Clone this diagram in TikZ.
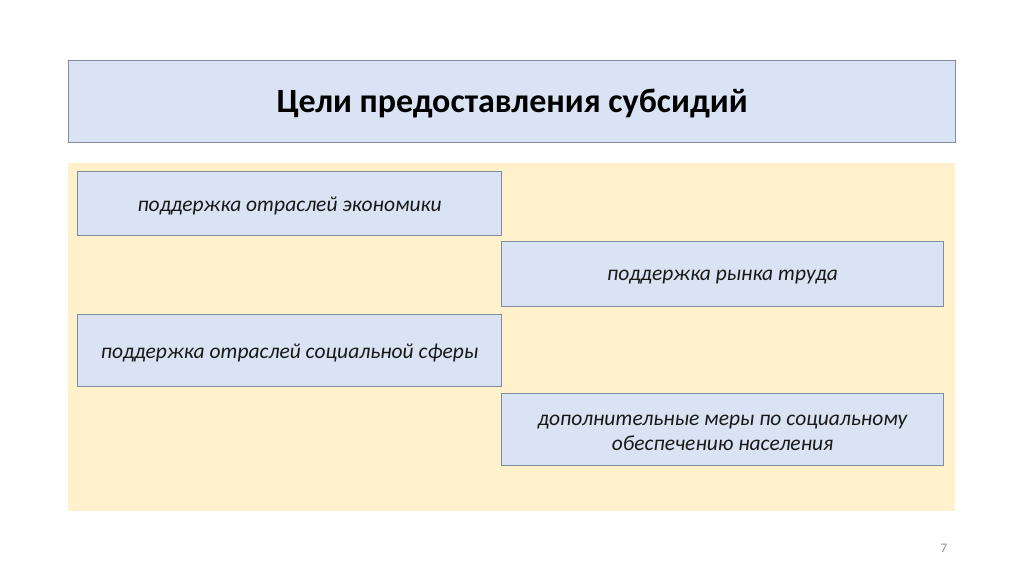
\documentclass[tikz,border=0pt]{standalone}
\usepackage{fontspec}
\setmainfont{Carlito}
\definecolor{boxfill}{HTML}{DAE3F3}
\definecolor{boxline}{HTML}{7F8C9D}
\definecolor{panel}{HTML}{FEF1CB}
\tikzset{
  goal/.style={draw=boxline, line width=1.2pt, fill=boxfill, inner sep=0pt},
  goaltext/.style={font=\fontsize{21.5}{25}\selectfont\itshape, align=center, text=black!90, inner sep=0pt},
}
\begin{document}
\begin{tikzpicture}[x=1pt,y=-1pt]
\useasboundingbox (0,0) rectangle (1024,574);
\node[goal, minimum width=887pt, minimum height=82pt, anchor=north west] (title) at (68,60) {};
\node[font=\fontsize{34}{40}\selectfont\bfseries, inner sep=0pt] (titletext) at ([yshift=-1.5pt]title.center) {Цели предоставления субсидий};
\node[fill=panel, minimum width=887pt, minimum height=348pt, inner sep=0pt, anchor=north west] (panel) at (68,163) {};
\node[goal, minimum width=424pt, minimum height=64pt, anchor=north west] (g1) at (77,171) {};
\node[goaltext] (t1) at ([yshift=-2.5pt]g1.center) {поддержка отраслей экономики};
\node[goal, minimum width=442pt, minimum height=65pt, anchor=north west] (g2) at (501,241) {};
\node[goaltext] (t2) at ([yshift=-3pt]g2.center) {поддержка рынка труда};
\node[goal, minimum width=424pt, minimum height=72pt, anchor=north west] (g3) at (77,314) {};
\node[goaltext] (t3) at ([yshift=-2.5pt]g3.center) {поддержка отраслей социальной сферы};
\node[goal, minimum width=442pt, minimum height=72pt, anchor=north west] (g4) at (501,393) {};
\node[goaltext] (t4) at ([yshift=-3pt]g4.center) {дополнительные меры по социальному\\обеспечению населения};
\node[text=black!45, font=\fontsize{13}{15}\selectfont] (num) at (944,548) {7};
\end{tikzpicture}
\end{document}
